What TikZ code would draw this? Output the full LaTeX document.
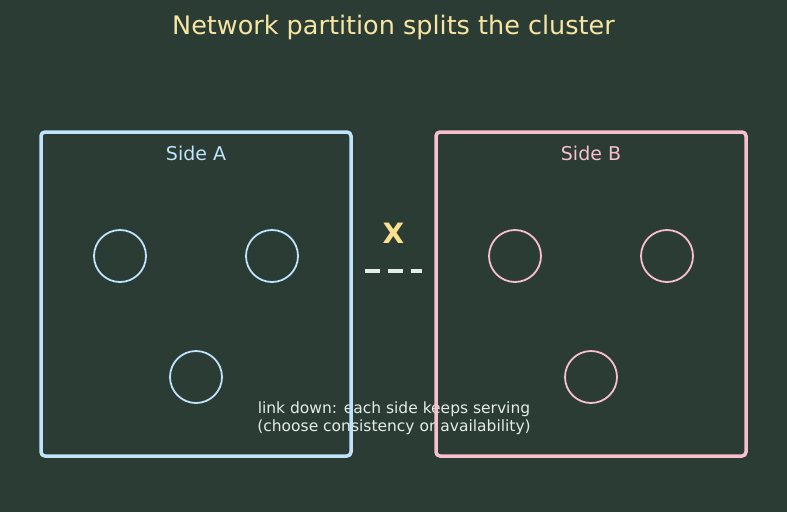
\documentclass[tikz,border=0pt]{standalone}
\usepackage{fontspec}
\setmainfont{DejaVu Sans}
\definecolor{bgc}{HTML}{2B3C35}
\definecolor{titlec}{HTML}{F7E5A2}
\definecolor{xc}{HTML}{FBE08F}
\definecolor{sidea}{HTML}{BFE3FA}
\definecolor{sideb}{HTML}{F8C0CC}
\definecolor{notec}{HTML}{E4ECE6}
\begin{document}
\begin{tikzpicture}[x=1pt,y=-1pt,
  box/.style={draw,line width=3.5pt,rounded corners=4pt,minimum width=310pt,minimum height=324pt,inner sep=0pt},
  host/.style={draw,circle,line width=1.8pt,minimum size=52pt,inner sep=0pt},
  sidelbl/.style={font=\fontsize{19}{22}\selectfont},
  link/.style={draw=notec,line width=4pt,dash pattern=on 15pt off 8pt,shorten <=12pt,shorten >=12pt}]
\fill[bgc] (0,0) rectangle (787,512);
\node[titlec,font=\fontsize{25.5}{30}\selectfont] (title) at (393.5,27) {Network partition splits the cluster};
% note sits under the two boxes
\node[notec,align=center,font=\fontsize{15.5}{18}\selectfont] (note) at (394,418) {link down: each side keeps serving\\(choose consistency or availability)};
% side A
\node[box,draw=sidea] (boxa) at (196,294) {};
\node[sidelbl,sidea] (lbla) at (196,153) {Side A};
\node[host,draw=sidea] (a1) at (120,256) {};
\node[host,draw=sidea] (a2) at (272,256) {};
\node[host,draw=sidea] (a3) at (196,377) {};
% side B
\node[box,draw=sideb] (boxb) at (591,294) {};
\node[sidelbl,sideb] (lblb) at (591,153) {Side B};
\node[host,draw=sideb] (b1) at (515,256) {};
\node[host,draw=sideb] (b2) at (667,256) {};
\node[host,draw=sideb] (b3) at (591,377) {};
% broken link
\draw[link] ([yshift=23pt]boxa.east) -- ([yshift=23pt]boxb.west);
\node[xc,font=\bfseries\fontsize{28}{30}\selectfont] (cut) at (393.5,233) {X};
\end{tikzpicture}
\end{document}
